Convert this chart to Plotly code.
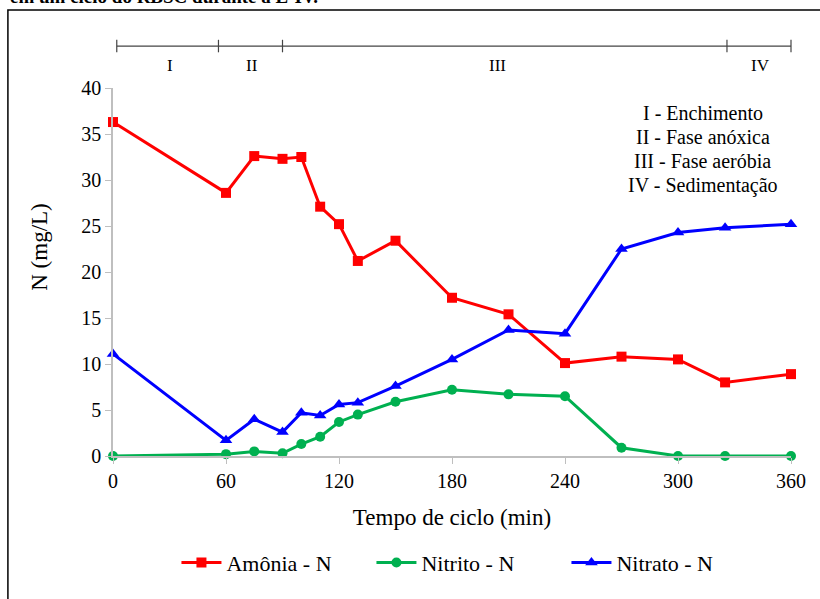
import plotly.graph_objects as go

tempo = [0, 60, 75, 90, 100, 110, 120, 130, 150, 180, 210, 240, 270, 300, 325, 360]
amonia = [36.3, 28.6, 32.6, 32.3, 32.5, 27.1, 25.2, 21.2, 23.4, 17.2, 15.4, 10.1, 10.8, 10.5, 8.0, 8.9]
nitrito = [0.0, 0.2, 0.5, 0.3, 1.3, 2.1, 3.7, 4.5, 5.9, 7.2, 6.7, 6.5, 0.9, 0.0, 0.0, 0.0]
nitrato = [11.1, 1.7, 4.0, 2.6, 4.7, 4.4, 5.6, 5.8, 7.6, 10.5, 13.7, 13.3, 22.5, 24.3, 24.8, 25.2]

x_ticks = [0, 60, 120, 180, 240, 300, 360]
y_ticks = [0, 5, 10, 15, 20, 25, 30, 35, 40]

fase_limites = [2, 56, 90, 326, 360]
fase_rotulos = ["I", "II", "III", "IV"]
fase_centros = [30, 74, 204, 344]
legenda_fases = ["I - Enchimento", "II - Fase anóxica", "III - Fase aeróbia", "IV - Sedimentação"]

FONT = "Times New Roman, Liberation Serif, DejaVu Serif, serif"
XMAX = 360.0

fig = go.Figure()
fig.add_trace(go.Scatter(x=tempo, y=amonia, name="Amônia - N", mode="lines+markers", cliponaxis=False,
                         line=dict(color="#FF0000", width=3),
                         marker=dict(symbol="square", size=10, color="#FF0000")))
fig.add_trace(go.Scatter(x=tempo, y=nitrito, name="Nitrito - N", mode="lines+markers", cliponaxis=False,
                         line=dict(color="#00B050", width=3),
                         marker=dict(symbol="circle", size=10, color="#00B050")))
fig.add_trace(go.Scatter(x=tempo, y=nitrato, name="Nitrato - N", mode="lines+markers", cliponaxis=False,
                         line=dict(color="#0000FF", width=3),
                         marker=dict(symbol="triangle-up", size=11, color="#0000FF")))

shapes = []
shapes.append(dict(type="rect", xref="paper", yref="paper", x0=-0.155, x1=1.06, y0=-0.42, y1=1.212,
                   line=dict(color="black", width=1.5), fillcolor="rgba(0,0,0,0)", layer="below"))
ybar = 1.114
shapes.append(dict(type="line", xref="paper", yref="paper", x0=fase_limites[0] / XMAX, x1=fase_limites[-1] / XMAX,
                   y0=ybar, y1=ybar, line=dict(color="#444", width=1.2)))
for b in fase_limites:
    shapes.append(dict(type="line", xref="paper", yref="paper", x0=b / XMAX, x1=b / XMAX,
                       y0=ybar - 0.017, y1=ybar + 0.017, line=dict(color="#444", width=1.2)))

annotations = []
for lab, c in zip(fase_rotulos, fase_centros):
    annotations.append(dict(x=c / XMAX, y=1.06, xref="paper", yref="paper", text=lab, showarrow=False,
                            font=dict(family=FONT, size=17, color="black"), xanchor="center", yanchor="middle"))
for i, t in enumerate(legenda_fases):
    annotations.append(dict(x=0.87, y=0.932 - i * 0.0655, xref="paper", yref="paper", text=t, showarrow=False,
                            font=dict(family=FONT, size=20, color="black"), xanchor="center", yanchor="middle"))
annotations.append(dict(x=-0.155, y=1.25, xref="paper", yref="paper",
                        text="<b>em um ciclo do RBSC durante a E-IV.</b>", showarrow=False,
                        font=dict(family=FONT, size=19, color="black"), xanchor="left", yanchor="middle"))
annotations.append(dict(x=-0.108, y=0.568, xref="paper", yref="paper", text="N (mg/L)", showarrow=False,
                        textangle=-90, font=dict(family=FONT, size=23, color="black"),
                        xanchor="center", yanchor="middle"))

fig.update_layout(
    width=820, height=599,
    margin=dict(l=113, r=29, t=88, b=143),
    paper_bgcolor="white", plot_bgcolor="white",
    font=dict(family=FONT, size=16, color="black"),
    showlegend=True,
    legend=dict(orientation="h", x=0.525, xanchor="center", y=-0.29, yanchor="middle",
                font=dict(family=FONT, size=22, color="black"), itemwidth=40,
                entrywidth=140, entrywidthmode="pixels"),
    shapes=shapes, annotations=annotations,
)
fig.update_xaxes(range=[0, 360], tickvals=x_ticks, ticktext=[str(v) for v in x_ticks],
                 showgrid=False, zeroline=False, showline=True, linecolor="#BFBFBF", linewidth=1.5,
                 ticks="outside", tickcolor="#BFBFBF", ticklen=6, tickfont=dict(family=FONT, size=20),
                 title=dict(text="Tempo de ciclo (min)", font=dict(family=FONT, size=23), standoff=18))
fig.update_yaxes(range=[0, 40], tickvals=y_ticks, showgrid=False, zeroline=False, showline=True,
                 linecolor="#BFBFBF", linewidth=1.5, ticks="outside", tickcolor="#BFBFBF", ticklen=6,
                 tickfont=dict(family=FONT, size=20))

fig.write_html("out.html")
